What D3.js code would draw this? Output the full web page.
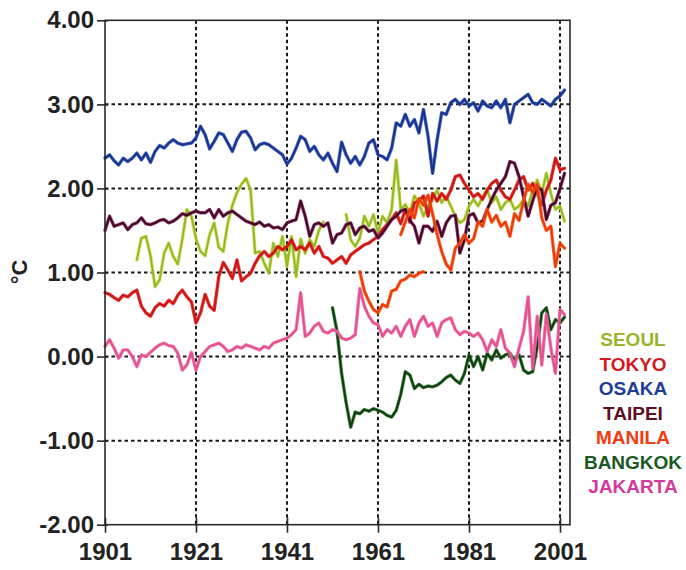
<!DOCTYPE html>
<html>
<head>
<meta charset="utf-8">
<script src="https://cdn.jsdelivr.net/npm/d3@7/dist/d3.min.js"></script>
<style>
  html, body { margin: 0; padding: 0; background: #fff; }
  svg { display: block; font-family: "Liberation Sans", Arial, sans-serif; }
</style>
</head>
<body>
<svg id="chart" width="686" height="570"></svg>
<script>
// Annual temperature anomalies (°C) for seven Asian cities, 1901–2002.
const yearTicks = [1901, 1921, 1941, 1961, 1981, 2001];
const valueTicks = [-2, -1, 0, 1, 2, 3, 4];
const cityNames = ["SEOUL", "TOKYO", "OSAKA", "TAIPEI", "MANILA", "BANGKOK", "JAKARTA"];
// line colour: outer edge and inner core
const edgeColors = ["#d6d838", "#e2261e", "#2c4fb8", "#8a1860", "#ff5a12", "#2a7a22", "#f06aa4"];
const coreColors = ["#8cba2e", "#cc1616", "#18338c", "#3e0a20", "#e8380c", "#0f3a12", "#e2508e"];
const labelColors = ["#9ab52c", "#d3191f", "#1d3c96", "#5a1020", "#f23b10", "#1a5a22", "#d43a9c"];

const osakaStart = 1901;
const osaka = [
  2.36, 2.40, 2.33, 2.28, 2.36, 2.32, 2.36, 2.42, 2.34, 2.42,
  2.31, 2.44, 2.51, 2.48, 2.54, 2.58, 2.54, 2.52, 2.53, 2.54,
  2.60, 2.74, 2.64, 2.47, 2.56, 2.66, 2.64, 2.54, 2.44, 2.58,
  2.67, 2.68, 2.60, 2.46, 2.52, 2.54, 2.52, 2.48, 2.44, 2.40,
  2.29, 2.36, 2.48, 2.62, 2.58, 2.44, 2.50, 2.40, 2.34, 2.42,
  2.30, 2.20, 2.55, 2.40, 2.30, 2.38, 2.28, 2.38, 2.54, 2.58,
  2.40, 2.38, 2.34, 2.48, 2.78, 2.74, 2.88, 2.74, 2.82, 2.66,
  2.94, 2.62, 2.18, 2.58, 2.90, 2.88, 3.02, 3.06, 3.00, 3.06,
  2.98, 3.02, 2.92, 3.04, 2.98, 2.96, 3.04, 2.96, 3.06, 2.78,
  3.00, 3.04, 3.08, 3.12, 3.02, 3.00, 3.06, 3.02, 2.98, 3.06,
  3.10, 3.17
];

const taipeiStart = 1901;
const taipei = [
  1.50, 1.67, 1.55, 1.57, 1.59, 1.51, 1.57, 1.59, 1.65, 1.58,
  1.57, 1.59, 1.62, 1.63, 1.59, 1.61, 1.65, 1.70, 1.68, 1.71,
  1.73, 1.71, 1.71, 1.75, 1.65, 1.75, 1.67, 1.71, 1.73, 1.69,
  1.65, 1.61, 1.59, 1.57, 1.60, 1.55, 1.57, 1.53, 1.54, 1.51,
  1.59, 1.61, 1.63, 1.85, 1.67, 1.43, 1.57, 1.59, 1.55, 1.59,
  1.35, 1.45, 1.47, 1.57, 1.59, 1.45, 1.53, 1.55, 1.49, 1.51,
  1.41, 1.47, 1.55, 1.63, 1.67, 1.73, 1.75, 1.62, 1.55, 1.35,
  1.55, 1.55, 1.49, 1.61, 1.43, 1.59, 1.67, 1.68, 1.23, 1.39,
  1.68, 1.70, 1.59, 1.61, 1.75, 1.87, 1.98, 2.06, 2.14, 2.32,
  2.30, 2.14, 1.90, 1.67, 1.85, 2.02, 1.98, 1.63, 1.80, 1.83,
  2.00, 2.18
];

const seoulStart = 1908;
const seoul = [
  1.15, 1.41, 1.43, 1.20, 0.83, 0.91, 1.23, 1.35, 1.19, 1.10,
  1.40, 1.75, 1.67, 1.40, 1.25, 1.20, 1.45, 1.59, 1.30, 1.25,
  1.59, 1.80, 1.95, 2.05, 2.12, 1.98, 1.23, 1.25, 1.11, 0.99,
  1.35, 1.19, 1.43, 1.07, 1.43, 0.95, 1.40, 1.23, 1.39, 1.31,
  1.50, 1.60, null, null, null, null, 1.69, 1.39, 1.31, 1.41,
  1.67, 1.55, 1.69, 1.47, 1.67, 1.59, 1.75, 2.34, 1.75, 1.81,
  1.71, 1.91, 1.83, 1.67, 1.79, 1.87, 1.98, 1.83, 1.91, 1.79,
  1.67, 1.59, 1.63, 1.79, 1.87, 1.79, 1.90, 1.98, 1.83, 1.90,
  1.75, 1.83, 1.87, 1.75, 1.79, 1.87, 1.79, 1.98, 2.10, 1.94,
  2.18, 1.94, 1.75, 1.79, 1.61
];

const tokyoStart = 1901;
const tokyo = [
  0.76, 0.74, 0.70, 0.67, 0.73, 0.71, 0.76, 0.79, 0.60, 0.52,
  0.48, 0.58, 0.63, 0.60, 0.67, 0.63, 0.73, 0.79, 0.71, 0.65,
  0.40, 0.52, 0.74, 0.60, 0.55, 0.95, 1.12, 1.03, 0.93, 1.15,
  0.90, 0.95, 0.99, 1.11, 1.20, 1.25, 1.19, 1.23, 1.31, 1.27,
  1.31, 1.39, 1.27, 1.31, 1.27, 1.35, 1.23, 1.31, 1.19, 1.17,
  1.11, 1.15, 1.19, 1.11, 1.21, 1.25, 1.29, 1.33, 1.35, 1.39,
  1.43, 1.51, 1.57, 1.63, 1.71, 1.58, 1.75, 1.60, 1.83, 1.85,
  1.91, 1.67, 1.94, 1.85, 1.94, 1.87, 1.98, 2.14, 2.16, 2.06,
  1.98, 1.90, 1.94, 1.87, 1.98, 2.06, 2.10, 1.98, 1.90, 1.87,
  1.98, 2.10, 2.14, 1.98, 2.06, 1.94, 1.80, 1.98, 2.10, 2.36,
  2.22, 2.24
];

// Manila is recorded in two separate runs
const manilaEarlyStart = 1957;
const manilaEarly = [1.01, 0.78, 0.66, 0.56, 0.52, 0.62, 0.59, 0.78, 0.80, 0.90, 0.92, 0.97, 0.95, 0.99, 1.01];
const manilaLateStart = 1966;
const manilaLate = [
  1.45, 1.60, 1.75, 1.65, 1.88, 1.80, 1.92, 1.70, 1.45, 1.25,
  1.10, 1.03, 1.29, 1.35, 1.45, 1.35, 1.40, 1.60, 1.55, 1.75,
  1.60, 1.68, 1.55, 1.60, 1.43, 1.70, 1.62, 1.85, 2.05, 1.95,
  2.05, 1.65, 1.50, 1.55, 1.07, 1.35, 1.29
];

const bangkokStart = 1951;
const bangkok = [
  0.58, 0.30, -0.20, -0.55, -0.84, -0.66, -0.68, -0.63, -0.65, -0.62,
  -0.64, -0.66, -0.70, -0.72, -0.64, -0.45, -0.18, -0.22, -0.38, -0.33,
  -0.37, -0.35, -0.36, -0.34, -0.30, -0.25, -0.22, -0.28, -0.32, -0.20,
  0.02, -0.12, 0.00, -0.16, 0.04, -0.04, 0.08, -0.02, 0.02, 0.04,
  -0.04, 0.02, -0.16, -0.20, -0.18, 0.12, 0.52, 0.58, 0.32, 0.44,
  0.40, 0.47
];

const jakartaStart = 1901;
const jakarta = [
  0.12, 0.20, 0.10, -0.02, 0.08, 0.08, 0.00, -0.12, 0.02, 0.00,
  0.05, 0.10, 0.14, 0.16, 0.13, 0.12, 0.04, -0.16, -0.10, 0.05,
  -0.16, 0.00, 0.06, 0.12, 0.14, 0.16, 0.12, 0.06, 0.08, 0.12,
  0.10, 0.14, 0.12, 0.10, 0.08, 0.12, 0.10, 0.16, 0.18, 0.20,
  0.22, 0.26, 0.32, 0.76, 0.24, 0.28, 0.36, 0.40, 0.30, 0.28,
  0.32, 0.30, 0.22, 0.20, 0.22, 0.26, 0.81, 0.60, 0.48, 0.40,
  0.38, 0.24, 0.32, 0.28, 0.36, 0.24, 0.36, 0.44, 0.24, 0.40,
  0.48, 0.36, 0.40, 0.24, 0.40, 0.44, 0.46, 0.32, 0.26, 0.30,
  0.28, 0.24, 0.28, 0.20, 0.06, 0.20, 0.12, 0.32, 0.10, 0.04,
  -0.12, 0.10, 0.30, 0.71, -0.14, 0.48, -0.10, 0.50, 0.10, -0.20,
  0.56, 0.50
];

// Each drawn run: which city it belongs to, its first year and its values
const runs = [
  { city: 0, start: seoulStart, values: seoul },
  { city: 1, start: tokyoStart, values: tokyo },
  { city: 2, start: osakaStart, values: osaka },
  { city: 3, start: taipeiStart, values: taipei },
  { city: 4, start: manilaEarlyStart, values: manilaEarly },
  { city: 4, start: manilaLateStart, values: manilaLate },
  { city: 5, start: bangkokStart, values: bangkok },
  { city: 6, start: jakartaStart, values: jakarta }
];

const svg = d3.select("#chart");
const plot = { left: 105, right: 570, top: 20.3, bottom: 524.7 };

const x = d3.scaleLinear().domain([1901, 2003.2]).range([plot.left, plot.right]);
const y = d3.scaleLinear().domain([-2, 4]).range([plot.bottom, plot.top]);

// dashed grid
const grid = svg.append("g").attr("stroke", "#1a1a1a").attr("stroke-width", 2).attr("stroke-dasharray", "3.5,3");
grid.selectAll("line.v").data(yearTicks.slice(1)).join("line")
  .attr("x1", d => x(d)).attr("x2", d => x(d))
  .attr("y1", plot.top).attr("y2", plot.bottom);
grid.selectAll("line.h").data(valueTicks.filter(v => v > -2 && v < 4)).join("line")
  .attr("x1", plot.left).attr("x2", plot.right)
  .attr("y1", d => y(d)).attr("y2", d => y(d));

// series lines: a lighter edge stroke under a darker core stroke
const line = d3.line()
  .defined(d => d.v != null)
  .x(d => x(d.year))
  .y(d => y(d.v));

const lines = svg.append("g").attr("fill", "none")
  .attr("stroke-linejoin", "round").attr("stroke-linecap", "round");
runs.forEach(r => {
  const pts = r.values.map((v, i) => ({ year: r.start + i, v }));
  const g = lines.append("g");
  g.append("path").datum(pts)
    .attr("stroke", edgeColors[r.city]).attr("stroke-width", 3.4).attr("stroke-opacity", 0.85)
    .attr("d", line);
  g.append("path").datum(pts)
    .attr("stroke", coreColors[r.city]).attr("stroke-width", 1.9)
    .attr("d", line);
});

// frame
svg.append("rect")
  .attr("x", plot.left).attr("y", plot.top)
  .attr("width", plot.right - plot.left).attr("height", plot.bottom - plot.top)
  .attr("fill", "none").attr("stroke", "#2a2a2a").attr("stroke-width", 1.6);

// axes
const fmt = d3.format(".2f");
const yAxis = d3.axisLeft(y).tickValues(valueTicks).tickFormat(d => fmt(d).replace("\u2212", "-"))
  .tickSizeInner(8).tickSizeOuter(0).tickPadding(3);
const gy = svg.append("g").attr("transform", `translate(${plot.left},0)`).call(yAxis);
gy.select(".domain").remove();
gy.selectAll(".tick line").attr("stroke", "#2a2a2a").attr("stroke-width", 1.6).attr("x2", -8).attr("x1", 3);
gy.selectAll(".tick text").attr("font-size", 24).attr("font-weight", "bold").attr("fill", "#222")
  .attr("font-family", "Liberation Sans, Arial, sans-serif");

const xAxis = d3.axisBottom(x).tickValues(yearTicks).tickFormat(d3.format("d"))
  .tickSizeInner(8).tickSizeOuter(0).tickPadding(10);
const gx = svg.append("g").attr("transform", `translate(0,${plot.bottom})`).call(xAxis);
gx.select(".domain").remove();
gx.selectAll(".tick line").attr("stroke", "#2a2a2a").attr("stroke-width", 1.6).attr("y1", -7).attr("y2", 8);
gx.selectAll(".tick text").attr("font-size", 24).attr("font-weight", "bold").attr("fill", "#222")
  .attr("font-family", "Liberation Sans, Arial, sans-serif");

// unit label
svg.append("text")
  .attr("transform", "translate(27,272) rotate(-90)")
  .attr("text-anchor", "middle")
  .attr("font-size", 22).attr("font-weight", "bold").attr("fill", "#222")
  .text("°C");

// legend
svg.append("g").selectAll("text").data(cityNames).join("text")
  .attr("x", 633)
  .attr("y", (d, i) => 346 + i * 24.5)
  .attr("text-anchor", "middle")
  .attr("font-size", 19).attr("font-weight", "bold")
  .attr("fill", (d, i) => labelColors[i])
  .text(d => d);
</script>
</body>
</html>
